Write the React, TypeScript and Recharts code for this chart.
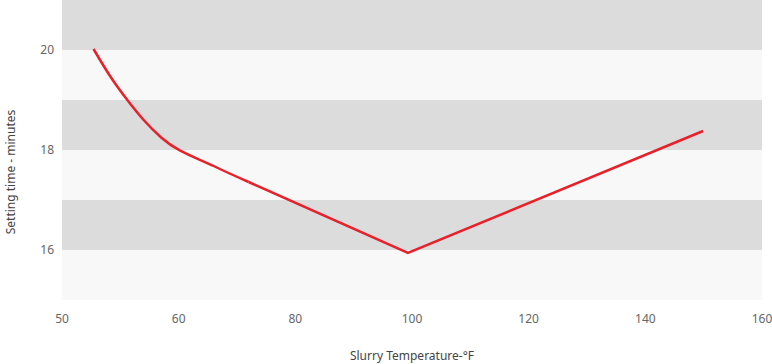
import React from 'react';
import { LineChart, Line, XAxis, YAxis, ReferenceArea, Label } from 'recharts';

// the x axis places its tick labels at equal spacing
const tempTicks = [50, 60, 80, 100, 120, 140, 160];

// steep curved part of the line, easing into the straight part
const curveTemps = [52.7, 54.2, 55.6, 57, 58.5, 66, 72];
const curveMinutes = [20.02, 19.45, 19.0, 18.6, 18.25, 17.68, 17.36];

// straight part with a sharp minimum
const lineTemps = [72, 99.3, 149.9];
const lineMinutes = [17.36, 15.94, 18.38];

const bandEdges = [15, 16, 17, 18, 19, 20, 21];
const yTicks = [16, 18, 20];

// piecewise map of a temperature onto the evenly spaced tick positions
const toAxis = (t: number) => {
    for (let i = 0; i < tempTicks.length - 1; i++) {
        const a = tempTicks[i];
        const b = tempTicks[i + 1];
        if (t <= b || i === tempTicks.length - 2) {
            return i + (t - a) / (b - a);
        }
    }
    return 0;
};

const curveData = curveTemps.map((t, i) => ({ pos: toAxis(t), minutes: curveMinutes[i] }));
const lineData = lineTemps.map((t, i) => ({ pos: toAxis(t), minutes: lineMinutes[i] }));

const FONT = '"Noto Sans", sans-serif';

const App: React.FC = () => {
    return (
        <div style={{ position: 'absolute', left: 0, top: 0 }}>
            <LineChart
                width={772}
                height={364}
                margin={{ top: 0, right: 10, left: 0, bottom: 0 }}
                style={{ fontFamily: FONT }}
            >
                {bandEdges.slice(0, -1).map((lo, i) => (
                    <ReferenceArea
                        key={lo}
                        y1={lo}
                        y2={bandEdges[i + 1]}
                        fill={i % 2 === 0 ? '#f8f8f8' : '#dcdcdc'}
                        fillOpacity={1}
                        stroke="none"
                        ifOverflow="visible"
                    />
                ))}
                <XAxis
                    type="number"
                    dataKey="pos"
                    domain={[0, tempTicks.length - 1]}
                    ticks={tempTicks.map((_, i) => i)}
                    tickFormatter={(v: number) => String(tempTicks[v])}
                    axisLine={false}
                    tickLine={false}
                    tickMargin={8}
                    height={64}
                    tick={{ fill: '#666', fontSize: 12 }}
                >
                    <Label
                        value="Slurry Temperature-°F"
                        position="insideBottom"
                        offset={4}
                        style={{ fill: '#444', fontSize: 12 }}
                    />
                </XAxis>
                <YAxis
                    type="number"
                    domain={[15, 21]}
                    ticks={yTicks}
                    axisLine={false}
                    tickLine={false}
                    width={62}
                    tick={{ fill: '#666', fontSize: 12 }}
                    label={(props: any) => {
                        const vb = props.viewBox;
                        const cx = 10;
                        const cy = vb.y + vb.height / 2 + 22;
                        return (
                            <text
                                x={cx}
                                y={cy}
                                transform={`rotate(-90, ${cx}, ${cy})`}
                                textAnchor="middle"
                                dominantBaseline="central"
                                fill="#444"
                                fontSize={12}
                            >
                                Setting time - minutes
                            </text>
                        );
                    }}
                />
                <Line
                    data={curveData}
                    dataKey="minutes"
                    type="monotone"
                    stroke="#e8202a"
                    strokeWidth={2.5}
                    dot={false}
                    isAnimationActive={false}
                />
                <Line
                    data={lineData}
                    dataKey="minutes"
                    type="linear"
                    stroke="#e8202a"
                    strokeWidth={2.5}
                    dot={false}
                    isAnimationActive={false}
                />
            </LineChart>
        </div>
    );
};

export default App;
